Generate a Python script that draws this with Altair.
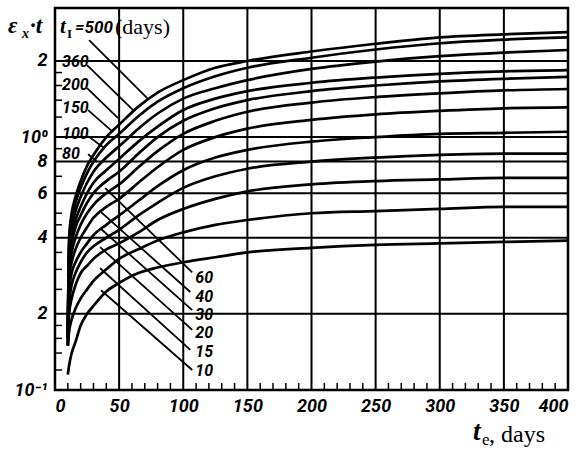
import altair as alt
import pandas as pd

# ---------------- data ----------------
te = [10, 11, 13, 16, 20, 25, 30, 40, 50, 65, 80, 100, 125, 150, 200, 250, 300, 350, 400]

curve_names = ["500", "360", "200", "150", "100", "80", "60", "40", "30", "20", "15", "10"]
c500 = [0.16, 0.40, 0.50, 0.58, 0.67, 0.77, 0.85, 1.00, 1.12, 1.32, 1.50, 1.68, 1.88, 2.00, 2.18, 2.34, 2.48, 2.55, 2.60]
c360 = [0.16, 0.38, 0.47, 0.55, 0.63, 0.72, 0.80, 0.93, 1.03, 1.21, 1.38, 1.56, 1.74, 1.88, 2.06, 2.22, 2.35, 2.43, 2.48]
c200 = [0.16, 0.36, 0.44, 0.51, 0.58, 0.66, 0.73, 0.83, 0.92, 1.08, 1.24, 1.42, 1.56, 1.68, 1.86, 1.99, 2.09, 2.16, 2.21]
c150 = [0.16, 0.34, 0.41, 0.47, 0.53, 0.60, 0.66, 0.74, 0.82, 0.96, 1.10, 1.28, 1.42, 1.52, 1.64, 1.72, 1.78, 1.82, 1.84]
c100 = [0.16, 0.32, 0.38, 0.44, 0.49, 0.55, 0.60, 0.67, 0.73, 0.86, 1.00, 1.16, 1.30, 1.40, 1.52, 1.60, 1.66, 1.70, 1.73]
c80 = [0.16, 0.30, 0.35, 0.40, 0.45, 0.50, 0.54, 0.60, 0.65, 0.76, 0.88, 1.03, 1.16, 1.26, 1.37, 1.44, 1.49, 1.53, 1.55]
c60 = [0.16, 0.28, 0.32, 0.36, 0.40, 0.44, 0.48, 0.53, 0.57, 0.66, 0.76, 0.89, 1.00, 1.08, 1.17, 1.23, 1.27, 1.30, 1.31]
c40 = [0.15, 0.25, 0.29, 0.32, 0.35, 0.38, 0.41, 0.45, 0.49, 0.56, 0.64, 0.74, 0.83, 0.89, 0.96, 1.00, 1.03, 1.04, 1.05]
c30 = [0.15, 0.22, 0.26, 0.29, 0.32, 0.35, 0.37, 0.40, 0.43, 0.49, 0.55, 0.63, 0.70, 0.75, 0.80, 0.83, 0.85, 0.86, 0.86]
c20 = [0.15, 0.20, 0.23, 0.26, 0.29, 0.31, 0.33, 0.36, 0.38, 0.42, 0.47, 0.52, 0.57, 0.61, 0.65, 0.67, 0.68, 0.69, 0.69]
c15 = [0.15, 0.17, 0.19, 0.21, 0.23, 0.25, 0.27, 0.30, 0.33, 0.36, 0.39, 0.42, 0.45, 0.47, 0.50, 0.51, 0.52, 0.53, 0.53]
c10 = [0.115, 0.125, 0.14, 0.155, 0.18, 0.20, 0.215, 0.245, 0.265, 0.29, 0.305, 0.32, 0.335, 0.35, 0.365, 0.375, 0.38, 0.385, 0.39]
curves = [c500, c360, c200, c150, c100, c80, c60, c40, c30, c20, c15, c10]

# curve labels (upper group at left, lower group at the right of the bundle)
lab_text = ["360", "200", "150", "100", "80", "60", "40", "30", "20", "15", "10"]
lab_te = [5.5, 5.5, 5.5, 5.5, 5.5, 109.4, 109.4, 109.4, 109.4, 109.4, 109.4]
lab_v = [1.979, 1.605, 1.302, 1.028, 0.857, 0.277, 0.233, 0.198, 0.168, 0.141, 0.119]

# leader lines (label -> curve)
lead_te0 = [26.6, 25.0, 25.0, 25.8, 25.8, 25.8, 39.1, 35.9, 35.2, 35.2, 35.2, 35.9]
lead_v0 = [2.417, 1.926, 1.562, 1.278, 1.009, 0.857, 0.628, 0.505, 0.436, 0.367, 0.303, 0.248]
lead_te1 = [71.9, 60.9, 49.2, 45.3, 38.3, 32.8, 107.0, 105.5, 107.0, 107.0, 105.5, 107.0]
lead_v1 = [1.426, 1.278, 1.189, 1.047, 0.905, 0.797, 0.292, 0.244, 0.207, 0.173, 0.144, 0.120]

# axes, grid and ticks
x_grid = [50, 100, 150, 200, 250, 300, 350]
y_grid = [0.2, 0.4, 0.6, 0.8, 1.0, 2.0]
x_labels = [0, 50, 100, 150, 200, 250, 300, 350, 400]
y_label_vals = [0.1, 0.2, 0.4, 0.6, 0.8, 1.0, 2.0]
y_label_txt = ["10⁻¹", "2", "4", "6", "8", "10⁰", "2"]
x_minor = [t for t in range(10, 400, 10) if t % 50 != 0]
y_minor = [0.12, 0.14, 0.16, 0.18, 0.25, 0.3, 0.35, 0.45, 0.5, 0.7, 0.9, 1.2, 1.4, 1.6, 1.8]

# ---------------- build ----------------
W, H = 513, 382
NUM_FONT = "Roboto, Liberation Sans Narrow, DejaVu Sans Condensed, sans-serif"
SERIF = "Liberation Serif, DejaVu Serif, serif"

rows = []
for n, arr in zip(curve_names, curves):
    for t, v in zip(te, arr):
        rows.append({"curve": n, "te": t, "v": v})
df = pd.DataFrame(rows)

xs = alt.Scale(domain=[0, 400], nice=False, zero=False)
ys = alt.Scale(type="log", domain=[0.1, 3.24], nice=False)

expr = "''"
for v, s in reversed(list(zip(y_label_vals, y_label_txt))):
    expr = f"abs(datum.value - {v}) < 1e-6 ? '{s}' : ({expr})"

xaxis = alt.Axis(values=x_labels, title=None, grid=False, ticks=False, domain=False,
                 labelFont=NUM_FONT, labelFontSize=18, labelFontStyle="italic",
                 labelFontWeight="bold", labelColor="black", labelPadding=7)
yaxis = alt.Axis(values=y_label_vals, labelExpr=expr, title=None, grid=False, ticks=False,
                 domain=False, labelFont=NUM_FONT, labelFontSize=18, labelFontStyle="italic",
                 labelFontWeight="bold", labelColor="black", labelPadding=8)


def X(field):
    return alt.X(field, type="quantitative", scale=xs, axis=xaxis)


def Y(field):
    return alt.Y(field, type="quantitative", scale=ys, axis=yaxis)


vgrid = alt.Chart(pd.DataFrame({"g": x_grid})).mark_rule(color="black", strokeWidth=2).encode(x=X("g"))
hgrid = alt.Chart(pd.DataFrame({"g": y_grid})).mark_rule(color="black", strokeWidth=2).encode(y=Y("g"))

xt = alt.Chart(pd.DataFrame({"t": x_minor})).mark_rule(color="black", strokeWidth=1.5).encode(
    x=X("t"), y=alt.value(H), y2=alt.value(H - 7))
yt = alt.Chart(pd.DataFrame({"t": y_minor})).mark_rule(color="black", strokeWidth=1.5).encode(
    y=Y("t"), x=alt.value(0), x2=alt.value(7))

lead_df = pd.DataFrame({"a": lead_te0, "b": lead_v0, "c": lead_te1, "d": lead_v1})
leaders = alt.Chart(lead_df).mark_rule(color="black", strokeWidth=1.8).encode(
    x=X("a"), y=Y("b"), x2="c", y2="d")

lines = alt.Chart(df).mark_line(color="black", strokeWidth=2.7, interpolate="monotone").encode(
    x=X("te"), y=Y("v"), detail="curve:N")

labels = alt.Chart(pd.DataFrame({"t": lab_text, "x": lab_te, "y": lab_v})).mark_text(
    align="left", baseline="middle", font=NUM_FONT, fontSize=16, fontStyle="italic",
    fontWeight="bold", color="black").encode(x=X("x"), y=Y("y"), text="t:N")


def txt(s, x, y, size, font, style="normal", weight="normal"):
    return alt.Chart(pd.DataFrame({"s": [s]})).mark_text(
        align="left", baseline="alphabetic", font=font, fontSize=size, fontStyle=style,
        fontWeight=weight, color="black").encode(x=alt.value(x), y=alt.value(y), text="s:N")


titles = [
    txt("ε", -47, 25, 23, SERIF, "italic", "bold"),
    txt("x", -33, 30, 14, SERIF, "italic", "bold"),
    txt("·t", -25, 25, 23, SERIF, "italic", "bold"),
    txt("t", 5, 25, 21, SERIF, "italic", "bold"),
    txt("I", 12, 30, 13, SERIF, "normal", "bold"),
    txt("=500", 20, 25, 17, NUM_FONT, "italic", "bold"),
    txt("(days)", 60, 26, 22, SERIF),
    txt("t", 418, 432, 27, SERIF, "italic", "bold"),
    txt("e", 427, 437, 17, SERIF),
    txt(", days", 434, 434, 24, SERIF),
]

chart = alt.layer(vgrid, hgrid, xt, yt, leaders, lines, labels, *titles).properties(
    width=W, height=H,
    autosize=alt.AutoSizeParams(type="none"),
    padding={"left": 55, "top": 8, "right": 15, "bottom": 61},
    background="white",
).configure_view(stroke="black", strokeWidth=2.5)

chart.save("out.html", embed_options={"renderer": "svg", "actions": False})
